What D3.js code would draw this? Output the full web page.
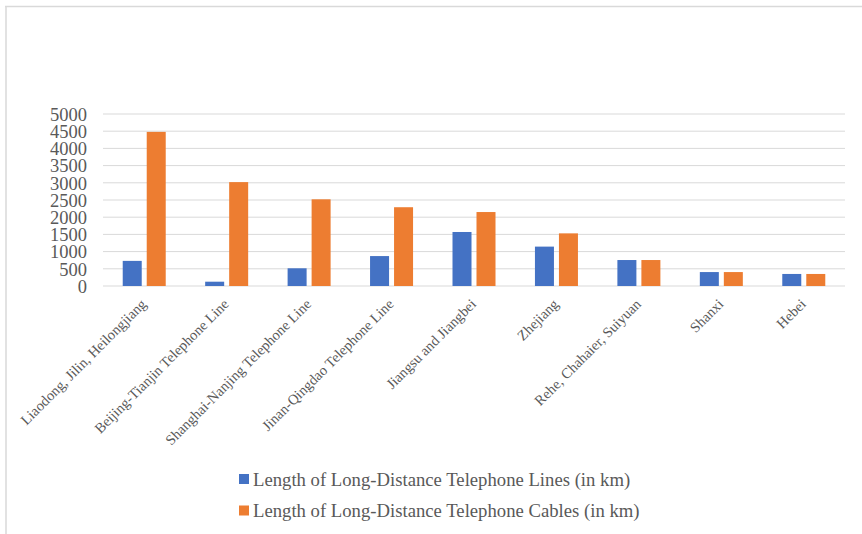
<!DOCTYPE html>
<html>
<head>
<meta charset="utf-8">
<script src="https://cdn.jsdelivr.net/npm/d3@7"></script>
<style>
  html, body { margin: 0; padding: 0; background: #fff; }
  svg { display: block; }
</style>
</head>
<body>
<svg id="chart" width="862" height="534"></svg>
<script>
// Long-distance telephone network by region
const categories = [
  "Liaodong, Jilin, Heilongjiang",
  "Beijing-Tianjin Telephone Line",
  "Shanghai-Nanjing Telephone Line",
  "Jinan-Qingdao Telephone Line",
  "Jiangsu and Jiangbei",
  "Zhejiang",
  "Rehe, Chahaier, Suiyuan",
  "Shanxi",
  "Hebei"
];
const lineLengths = [730, 125, 515, 870, 1570, 1145, 755, 405, 350];
const cableLengths = [4480, 3020, 2520, 2290, 2150, 1530, 755, 405, 350];
const seriesNames = [
  "Length of Long-Distance Telephone Lines (in km)",
  "Length of Long-Distance Telephone Cables (in km)"
];
const seriesColors = ["#4472C4", "#ED7D31"];
const yTicks = [0, 500, 1000, 1500, 2000, 2500, 3000, 3500, 4000, 4500, 5000];

const svg = d3.select("#chart");
const serif = "'Liberation Serif', 'Times New Roman', serif";

// chart frame
svg.append("line").attr("x1", 5).attr("x2", 862).attr("y1", 6.5).attr("y2", 6.5)
  .attr("stroke", "#d9d9d9").attr("stroke-width", 1.5);
svg.append("line").attr("x1", 6).attr("x2", 6).attr("y1", 6).attr("y2", 534)
  .attr("stroke", "#d9d9d9").attr("stroke-width", 1.5);

const plot = { left: 103, right: 845, top: 114, bottom: 286 };

const x = d3.scaleBand().domain(categories).range([plot.left, plot.right]).padding(0);
const y = d3.scaleLinear().domain([0, 5000]).range([plot.bottom, plot.top]);

// gridlines
svg.append("g").selectAll("line").data(yTicks).join("line")
  .attr("x1", plot.left).attr("x2", plot.right)
  .attr("y1", d => y(d)).attr("y2", d => y(d))
  .attr("stroke", "#d9d9d9").attr("stroke-width", 1);

// y axis labels
const yAxis = d3.axisLeft(y).tickValues(yTicks).tickFormat(d3.format("d"))
  .tickSize(0).tickPadding(0);
const yg = svg.append("g").attr("transform", `translate(${plot.left - 16},0)`).call(yAxis);
yg.select(".domain").remove();
yg.selectAll("text").attr("font-family", serif).attr("font-size", 18.5)
  .attr("fill", "#595959").attr("dy", "0.34em");

// bars
const barW = 19, gap = 5;
const rows = categories.map((c, i) => ({ c, v: [lineLengths[i], cableLengths[i]] }));
rows.forEach(r => {
  r.v.forEach((v, s) => {
    const cx = x(r.c) + x.bandwidth() / 2;
    const bx = s === 0 ? cx - gap / 2 - barW : cx + gap / 2;
    svg.append("rect")
      .attr("x", bx).attr("width", barW)
      .attr("y", y(v)).attr("height", y(0) - y(v))
      .attr("fill", seriesColors[s]);
  });
});

// category labels
const xAxis = d3.axisBottom(x).tickSize(0).tickPadding(0);
const xg = svg.append("g").attr("transform", `translate(0,${plot.bottom})`).call(xAxis);
xg.select(".domain").remove();
xg.selectAll("text")
  .attr("font-family", serif).attr("font-size", 14.5).attr("fill", "#595959")
  .attr("text-anchor", "end").attr("dy", null)
  .attr("transform", "translate(3,19) rotate(-45)");

// legend
const legend = svg.append("g");
seriesNames.forEach((name, i) => {
  const ly = 479 + i * 31.5;
  legend.append("rect").attr("x", 239).attr("y", ly - 5).attr("width", 10).attr("height", 10)
    .attr("fill", seriesColors[i]);
  legend.append("text").attr("x", 253).attr("y", ly).attr("dy", "0.35em")
    .attr("font-family", serif).attr("font-size", 18.7).attr("fill", "#595959").text(name);
});
</script>
</body>
</html>
